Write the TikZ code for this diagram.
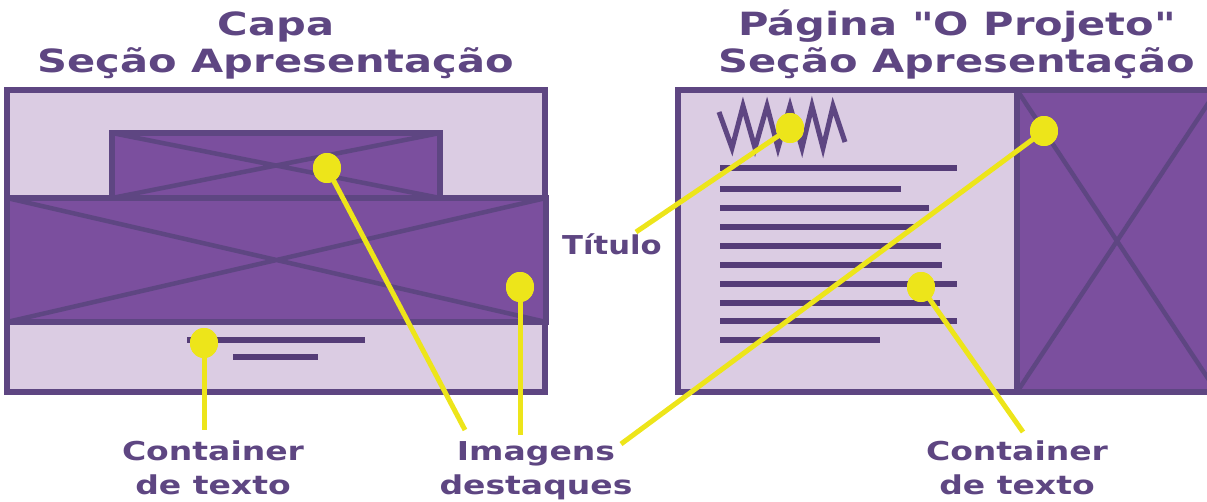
\documentclass[tikz,border=0pt]{standalone}
\usepackage{fontspec}
\setmainfont{DejaVu Sans}[Ligatures=TeXOff]
\usetikzlibrary{shapes.geometric}
\definecolor{lav}{HTML}{DBCCE3}
\definecolor{pur}{HTML}{7B4F9E}
\definecolor{dpur}{HTML}{5E4682}
\definecolor{ylw}{HTML}{EDE51A}
\definecolor{tline}{HTML}{553C78}
\newcommand{\wide}[2]{\scalebox{#1}[1]{\begin{tabular}{@{}c@{}}#2\end{tabular}}}
\begin{document}
\begin{tikzpicture}[x=1pt,y=-1pt,
  panel/.style={draw=dpur, fill=lav, line width=5.5pt},
  img/.style={draw=dpur, fill=pur, line width=5.5pt},
  cross/.style={draw=dpur, line width=4.5pt},
  txtline/.style={draw=tline, line width=5.5pt},
  lead/.style={draw=ylw, line width=5pt},
  dot/.style={ellipse, fill=ylw, minimum width=28pt, minimum height=30pt, inner sep=0pt},
  lbl/.style={text=dpur, inner sep=0pt, font=\bfseries\fontsize{26}{34}\selectfont},
  ttl/.style={text=dpur, inner sep=0pt, font=\bfseries\fontsize{32}{37}\selectfont}]
\useasboundingbox (0,0) rectangle (1207,501);
\clip (0,0) rectangle (1207,501);

% ---------- left panel ----------
\draw[panel] (7,90) rectangle (545,392);
\draw[img] (112,133) rectangle (440,198);
\draw[cross] (112,133) -- (440,198) (112,198) -- (440,133);
\draw[img] (7,198) rectangle (546,322);
\draw[cross] (7,198) -- (546,322) (7,322) -- (546,198);
\draw[txtline] (187,340) -- (365,340);
\draw[txtline] (233,357) -- (318,357);

% ---------- right panel ----------
\draw[panel] (678,90) rectangle (1017,392);
\draw[img] (1017,90) rectangle (1217,392);
\draw[cross] (1017,90) -- (1217,392) (1017,392) -- (1217,90);
\draw[dpur, line width=5pt, line join=miter]
  (719,112) -- (732,148) -- (743,106) -- (755,148) -- (767,106) -- (778,148)
  -- (790,106) -- (802,148) -- (812,106) -- (823,148) -- (833,106) -- (845,142);
\foreach \y/\e in {168/957,189/901,208/929,227/915,246/941,265/942,284/957,303/940,321/957,340/880}
  \draw[txtline] (720,\y) -- (\e,\y);

% ---------- labels ----------
\node[ttl] (t1) at (276,47) {\wide{1.3}{Capa\\Seção Apresentação}};
\node[ttl] (t2) at (957,47) {\wide{1.3}{Página "O Projeto"\\Seção Apresentação}};
\node[lbl] (titulo) at (612,248) {\wide{1.18}{Título}};
\node[lbl] (cont1) at (213,471) {\wide{1.27}{Container\\de texto}};
\node[lbl] (imgs) at (536,471) {\wide{1.27}{Imagens\\destaques}};
\node[lbl] (cont2) at (1017,471) {\wide{1.27}{Container\\de texto}};

% ---------- leader ends ----------
\coordinate (e1) at (204,430);
\coordinate (e2) at (465,430);
\coordinate (e3) at (520,435);
\coordinate (e4) at (636,232);
\coordinate (e5) at (621,444);
\coordinate (e6) at (1023,432);

% ---------- dots ----------
\node[dot] (d1) at (204,343) {};
\node[dot] (d2) at (327,168) {};
\node[dot] (d3) at (520,287) {};
\node[dot] (d4) at (790,128) {};
\node[dot] (d5) at (1044,131) {};
\node[dot] (d6) at (921,287) {};

\draw[lead] (d1.center) -- (e1);
\draw[lead] (d2.center) -- (e2);
\draw[lead] (d3.center) -- (e3);
\draw[lead] (d4.center) -- (e4);
\draw[lead] (d5.center) -- (e5);
\draw[lead] (d6.center) -- (e6);
\foreach \n in {d1,d2,d3,d4,d5,d6} \node[dot] at (\n) {};
\end{tikzpicture}
\end{document}
